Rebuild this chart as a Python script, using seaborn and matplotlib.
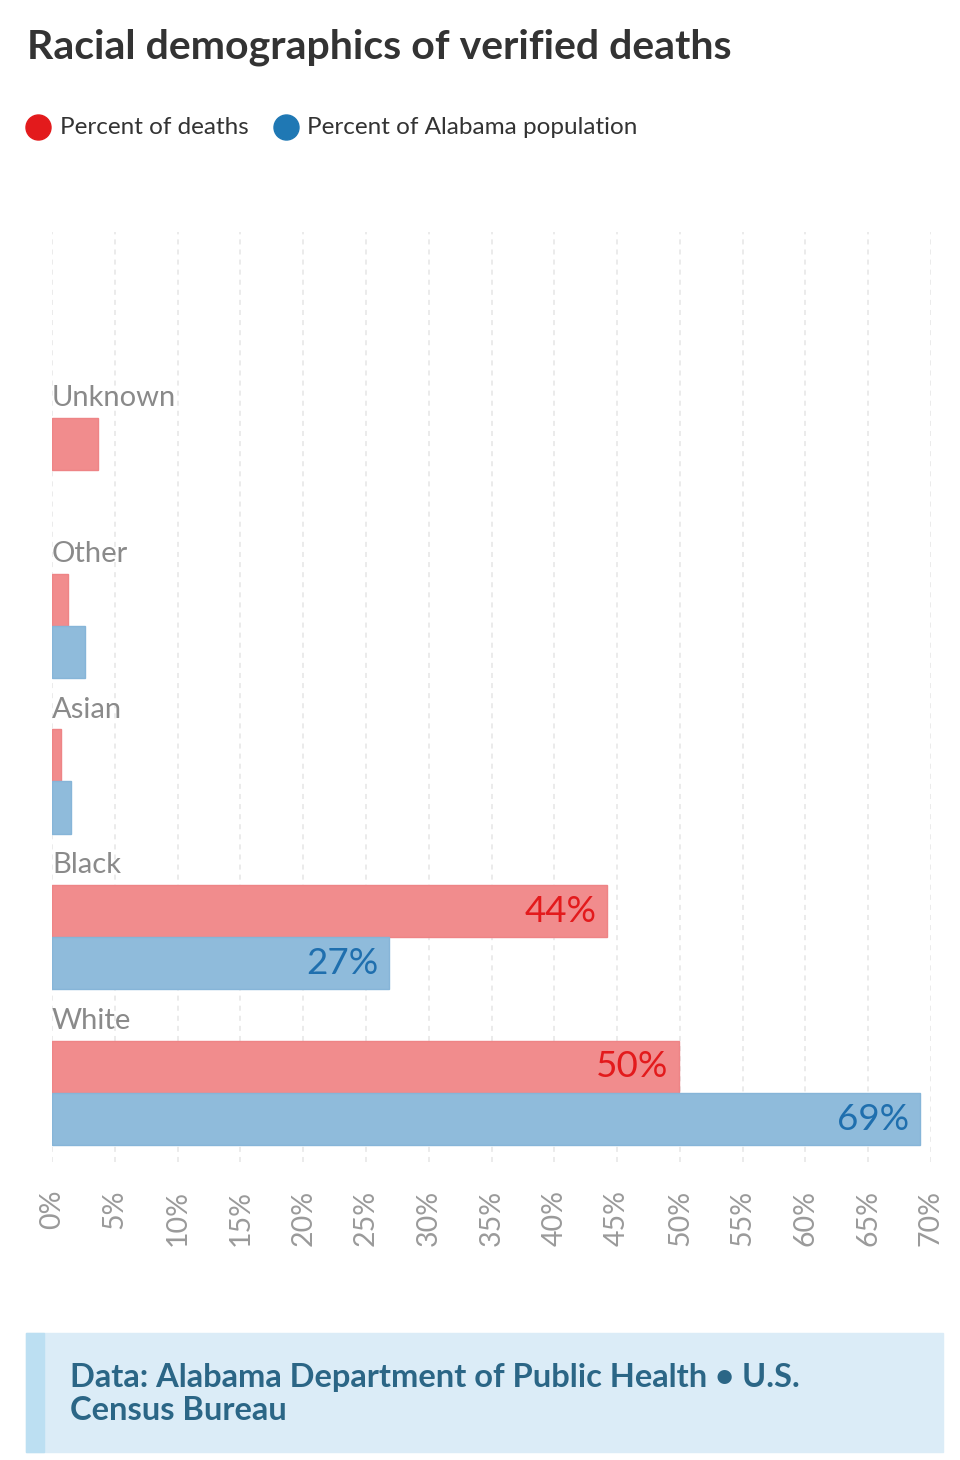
import numpy as np
import pandas as pd
import matplotlib.pyplot as plt
import seaborn as sns
from matplotlib.patches import Rectangle
from matplotlib.lines import Line2D

categories = ["Unknown", "Other", "Asian", "Black", "White"]
deaths = [3.7, 1.25, 0.7, 44.2, 49.9]
population = [np.nan, 2.6, 1.5, 26.8, 69.1]
series = ["Percent of deaths", "Percent of Alabama population"]
ticks = list(range(0, 75, 5))

df = pd.DataFrame({
    "race": categories * 2,
    "series": [series[0]] * 5 + [series[1]] * 5,
    "value": deaths + population,
}).dropna()

sns.set_style("white")
plt.rcParams["font.family"] = ["Lato", "DejaVu Sans"]

W, H = 960, 1460
fig = plt.figure(figsize=(9.6, 14.6), dpi=100)
ax = fig.add_axes([52 / W, 1 - 1162 / H, 879 / W, 930 / H])

pal = {series[0]: "#f18c8d", series[1]: "#8fbbdb"}
edges = {series[0]: "#ee8486", series[1]: "#86b5d8"}
sns.barplot(data=df, y="race", x="value", hue="series", order=categories,
            hue_order=series, palette=pal, saturation=1, orient="h", width=0.668,
            errorbar=None, legend=False, ax=ax, zorder=2)

for bar, lab in zip(ax.patches, [s for s in series for _ in range(5)]):
    bar.set_edgecolor(edges[lab])
    bar.set_linewidth(1)

ax.set_xlim(0, 70)
ax.set_ylim(4.443, -1.528)
ax.set_xticks(ticks)
ax.set_xticklabels([f"{t}%" for t in ticks], rotation=90, fontsize=20.5, color="#9a9a9a")
ax.tick_params(axis="x", length=0, pad=20)
ax.set_yticks([])
ax.set_xlabel("")
ax.set_ylabel("")
for s in ax.spines.values():
    s.set_visible(False)
ax.grid(axis="x", color="#e6e6e6", linewidth=1.1, linestyle=(0, (3.3, 3.3)), zorder=0)
ax.set_axisbelow(True)

# category labels above each group
for i, c in enumerate(categories):
    ax.text(0, i - 0.462, c, fontsize=21, color="#8a8a8a", ha="left", va="center")

# value labels inside large bars
txt_col = {series[0]: "#e31a1c", series[1]: "#1f6fae"}
for i, c in enumerate(categories):
    for j, (s, vals) in enumerate(zip(series, [deaths, population])):
        v = vals[i]
        if np.isnan(v) or v < 10:
            continue
        y = i - 0.167 + j * 0.334
        ax.annotate(f"{round(v)}%", (v, y), xytext=(-7.5, 0), textcoords="offset points",
                    ha="right", va="center", fontsize=26.5, color=txt_col[s])

# title and legend
fig.text(27 / W, 1 - 47 / H, "Racial demographics of verified deaths", fontsize=29.5,
         fontweight="bold", color="#333333", ha="left", va="center")
for cx, tx, s, col in [(38, 60, series[0], "#e31a1c"), (286, 307, series[1], "#1f78b4")]:
    fig.add_artist(Line2D([cx / W], [1 - 127 / H], marker="o", markersize=18,
                          color=col, transform=fig.transFigure))
    fig.text(tx / W, 1 - 127 / H, s, fontsize=17.5, color="#333333", ha="left", va="center")

# source box
fig.add_artist(Rectangle((26 / W, 1 - 1452 / H), 917 / W, 119 / H,
                         transform=fig.transFigure, color="#dbecf7", zorder=0))
fig.add_artist(Rectangle((26 / W, 1 - 1452 / H), 18 / W, 119 / H,
                         transform=fig.transFigure, color="#bcdff2", zorder=0))
fig.text(70 / W, 1 - 1377 / H, "Data: Alabama Department of Public Health • U.S.",
         fontsize=23.5, fontweight="bold", color="#2b6686", ha="left", va="center")
fig.text(70 / W, 1 - 1411 / H, "Census Bureau",
         fontsize=23.5, fontweight="bold", color="#2b6686", ha="left", va="center")

fig.savefig("out.png", dpi=100)
